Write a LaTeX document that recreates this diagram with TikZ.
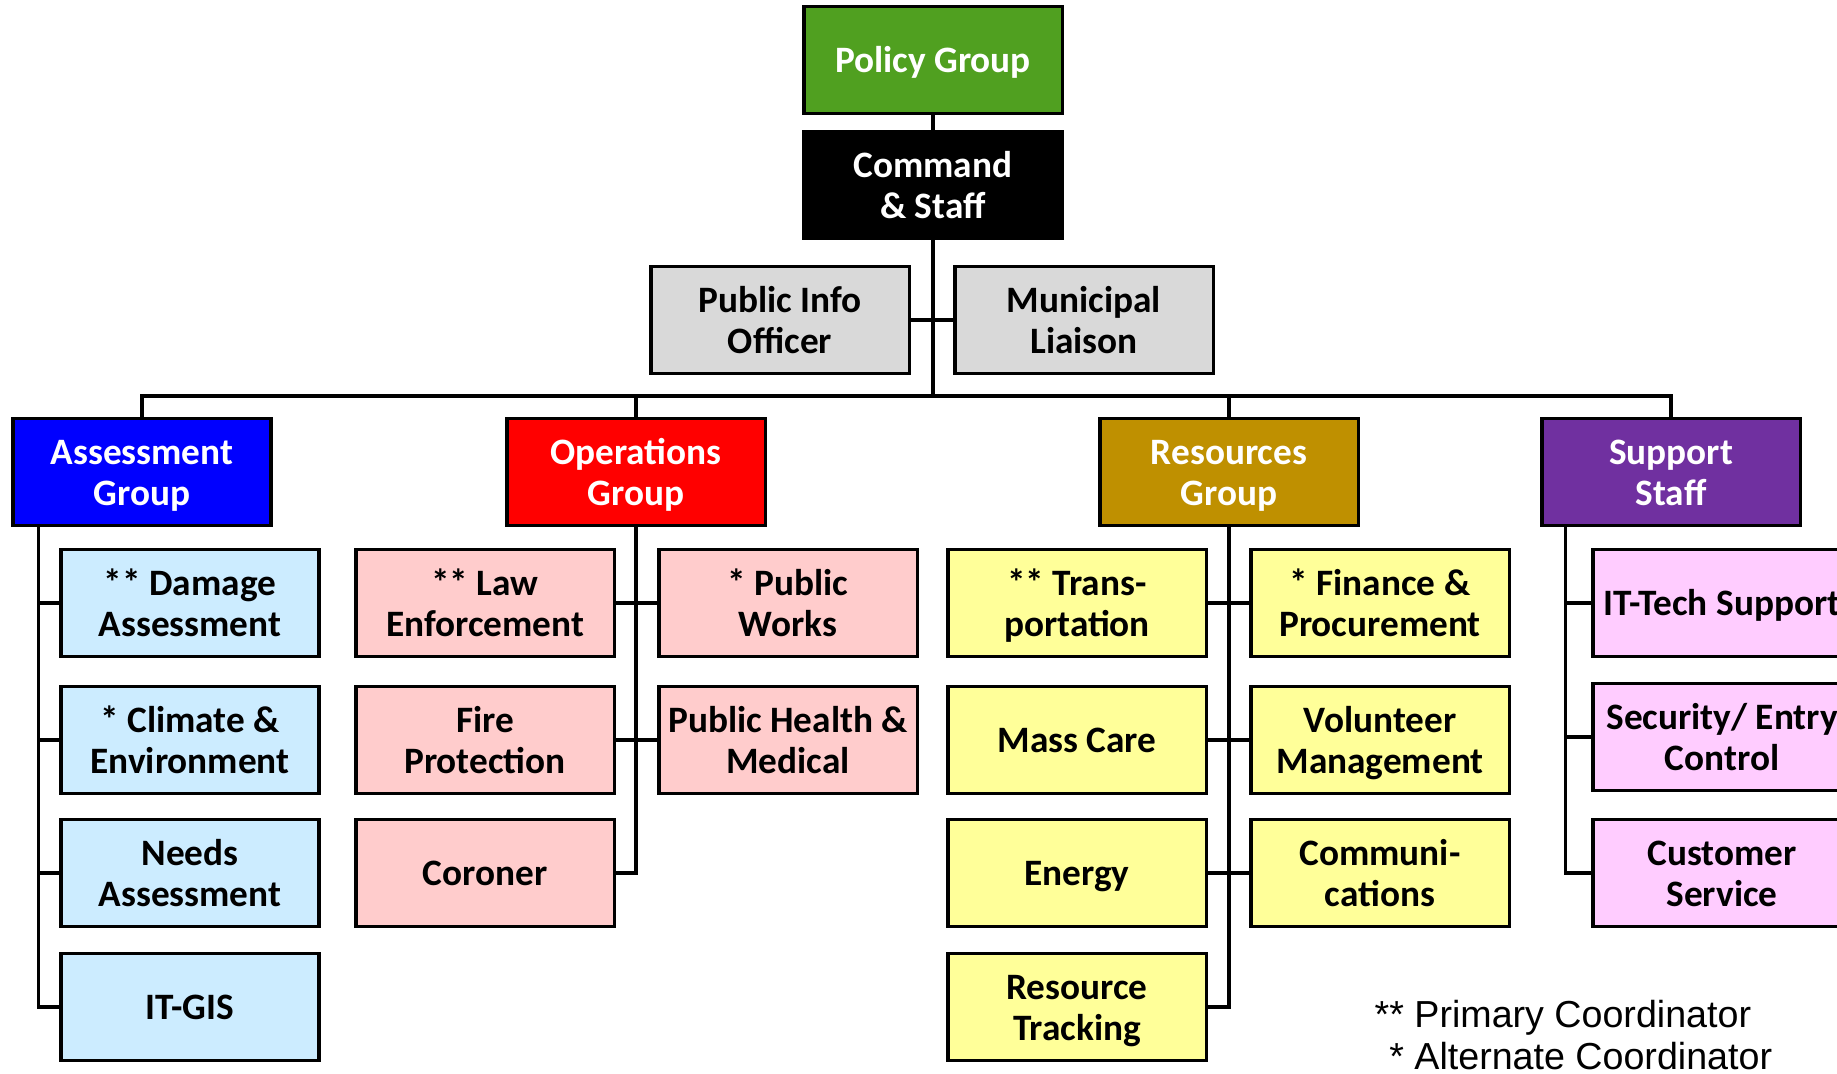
\documentclass[tikz,border=0pt]{standalone}
\usepackage{fontspec}
\setmainfont{Carlito}
\newfontfamily\legendfont{Liberation Sans}
\usepackage{tikz}
\usetikzlibrary{positioning}

\definecolor{policygreen}{RGB}{80,160,32}
\definecolor{staffgrey}{RGB}{217,217,217}
\definecolor{assessblue}{RGB}{0,0,255}
\definecolor{opsred}{RGB}{255,0,0}
\definecolor{resgold}{RGB}{191,144,0}
\definecolor{supportpurple}{RGB}{112,48,160}
\definecolor{assesslight}{RGB}{204,236,255}
\definecolor{opslight}{RGB}{255,204,204}
\definecolor{reslight}{RGB}{255,255,153}
\definecolor{supportlight}{RGB}{255,204,255}

\begin{document}
\begin{tikzpicture}[
                x=0.01cm, y=-0.01cm,
                box/.style={rectangle,draw=black,line width=0.9pt,minimum width=2.58cm,minimum height=1.07cm,
                    inner sep=1pt,align=center,font=\fontsize{10.6}{11.6}\selectfont\bfseries,
                    text height=20.65pt,text depth=1.85pt},
                oneline/.style={text height=9.05pt},
                head/.style={box,text=white},
                staff/.style={box,fill=staffgrey},
                assessbox/.style={box,fill=assesslight},
                opsbox/.style={box,fill=opslight},
                resbox/.style={box,fill=reslight},
                supportbox/.style={box,fill=supportlight},
                link/.style={line width=0.9pt},
            ]

            \useasboundingbox (0,0) rectangle (1837,1074);
            \clip (0,0) rectangle (1837,1074);

            % Define nodes
            \node[head,oneline,fill=policygreen] (policy) at (933,60) {Policy Group};
            \node[head,fill=black] (command) at (933,185) {Command\\ \& Staff};
            \node[staff] (pio) at (780,320) {Public Info\\ Officer};
            \node[staff] (muni) at (1084,320) {Municipal\\ Liaison};
            \coordinate (bus) at (933,396);

            \node[head,fill=assessblue] (assess) at (142,472) {Assessment\\ Group};
            \node[head,fill=opsred] (ops) at (636,472) {Operations\\ Group};
            \node[head,fill=resgold] (res) at (1229,472) {Resources\\ Group};
            \node[head,fill=supportpurple] (support) at (1671,472) {Support\\ Staff};

            \node[assessbox] (damage) at (190,603) {** Damage\\ Assessment};
            \node[assessbox] (climate) at (190,740) {* Climate \&\\ Environment};
            \node[assessbox] (needs) at (190,873) {Needs\\ Assessment};
            \node[assessbox,oneline] (gis) at (190,1007) {IT-GIS};

            \node[opsbox] (law) at (485,603) {** Law\\ Enforcement};
            \node[opsbox] (fire) at (485,740) {Fire\\ Protection};
            \node[opsbox,oneline] (coroner) at (485,873) {Coroner};
            \node[opsbox] (works) at (788,603) {* Public\\ Works};
            \node[opsbox] (health) at (788,740) {Public Health \&\\ Medical};

            \node[resbox] (trans) at (1077,603) {** Trans-\\ portation};
            \node[resbox,oneline] (masscare) at (1077,740) {Mass Care};
            \node[resbox,oneline] (energy) at (1077,873) {Energy};
            \node[resbox] (tracking) at (1077,1007) {Resource\\ Tracking};
            \node[resbox] (finance) at (1380,603) {* Finance \&\\ Procurement};
            \node[resbox] (volunteer) at (1380,740) {Volunteer\\ Management};
            \node[resbox] (comms) at (1380,873) {Communi-\\ cations};

            \node[supportbox,oneline] (ittech) at (1722,603) {IT-Tech Support};
            \node[supportbox] (security) at (1722,737) {Security/ Entry\\ Control};
            \node[supportbox] (customer) at (1722,873) {Customer\\ Service};

            % Legend
            \node[anchor=west,align=left,inner sep=0pt,font=\legendfont\fontsize{10.7}{11.9}\selectfont] (legend) at (1374,1035)
                {** Primary Coordinator\\ \phantom{*}* Alternate Coordinator};

            % Draw connections
            \draw[link] (policy) -- (command);
            \draw[link] (command) -- (bus);
            \draw[link] (pio) -- (muni);
            \draw[link] (assess.north) |- (bus) -| (support.north);
            \draw[link] (ops.north) -- (ops.north |- bus);
            \draw[link] (res.north) -- (res.north |- bus);

            \draw[link] ([xshift=0.27cm]assess.south west) |- (gis.west);
            \draw[link] (damage.west) -- ++(-22,0);
            \draw[link] (climate.west) -- ++(-22,0);
            \draw[link] (needs.west) -- ++(-22,0);

            \draw[link] (ops.south) -- (ops.south |- coroner.east) -- (coroner.east);
            \draw[link] (law) -- (works);
            \draw[link] (fire) -- (health);

            \draw[link] (res.south) -- (res.south |- tracking.east) -- (tracking.east);
            \draw[link] (trans) -- (finance);
            \draw[link] (masscare) -- (volunteer);
            \draw[link] (energy) -- (comms);

            \draw[link] ([xshift=0.25cm]support.south west) |- (customer.west);
            \draw[link] (ittech.west) -- ++(-26,0);
            \draw[link] (security.west) -- ++(-26,0);

\end{tikzpicture}
\end{document}
